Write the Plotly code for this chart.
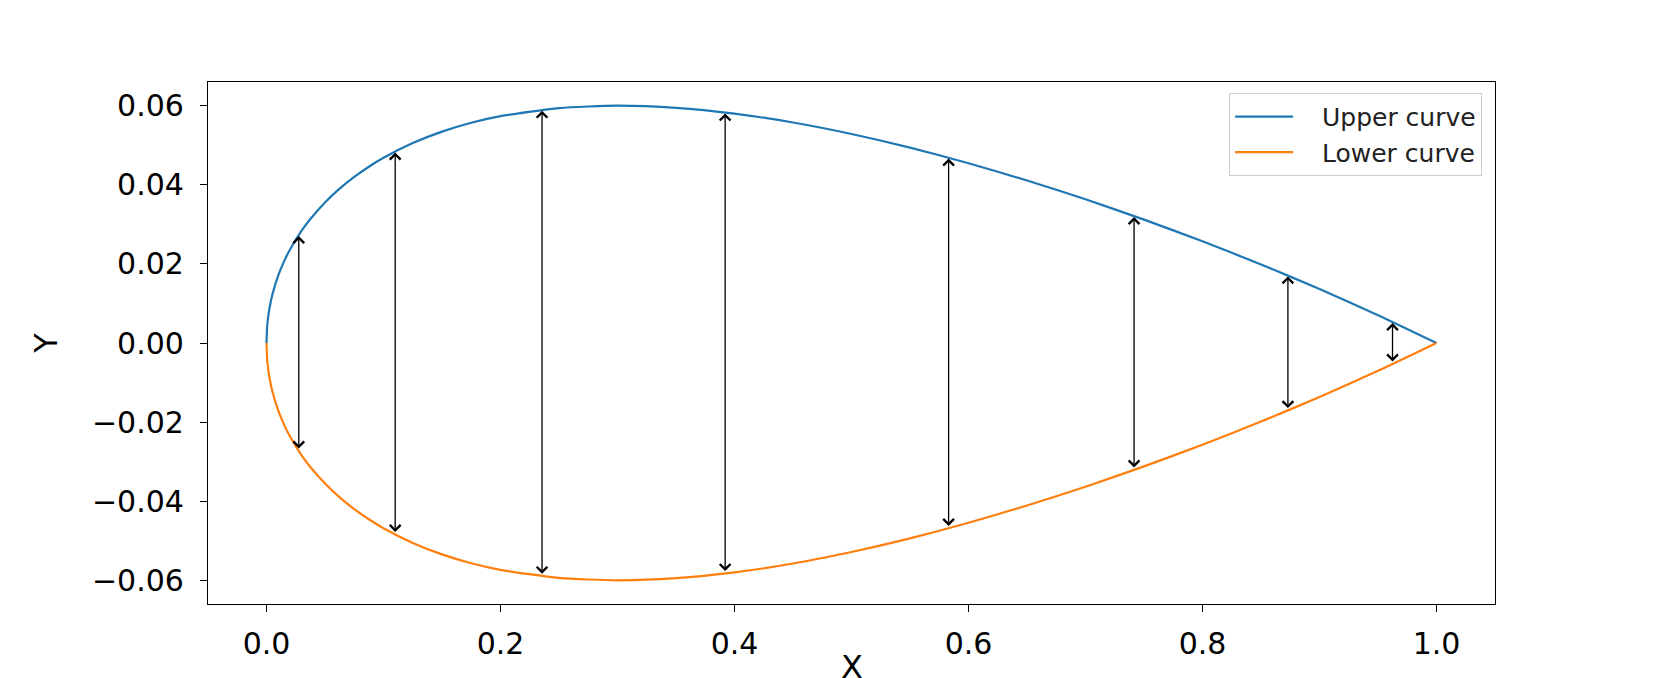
import plotly.graph_objects as go

# Curve points
x_curve = [0.0, 0.0005, 0.001, 0.0025, 0.005, 0.01, 0.015, 0.02, 0.03, 0.0375, 0.05, 0.0625,
           0.075, 0.0875, 0.1, 0.125, 0.15, 0.175, 0.2, 0.25, 0.3, 0.35, 0.4, 0.45, 0.5,
           0.55, 0.6, 0.65, 0.7, 0.75, 0.8, 0.85, 0.9, 0.95, 1.0]
y_upper = [0.0, 0.00395, 0.00556, 0.00872, 0.01221, 0.01704, 0.02064, 0.02360, 0.02840,
           0.03137, 0.03555, 0.03903, 0.04200, 0.04457, 0.04683, 0.05055, 0.05345,
           0.05569, 0.05737, 0.05941, 0.06001, 0.05947, 0.05800, 0.05576, 0.05286,
           0.04941, 0.04547, 0.04110, 0.03634, 0.03120, 0.02571, 0.01987, 0.01365,
           0.00704, 0.0]
y_lower = [0.0, -0.00395, -0.00556, -0.00872, -0.01221, -0.01704, -0.02064, -0.02360,
           -0.02840, -0.03137, -0.03555, -0.03903, -0.04200, -0.04457, -0.04683,
           -0.05055, -0.05345, -0.05569, -0.05737, -0.05941, -0.06001, -0.05947,
           -0.05800, -0.05576, -0.05286, -0.04941, -0.04547, -0.04110, -0.03634,
           -0.03120, -0.02571, -0.01987, -0.01365, -0.00704, 0.0]

# Thickness arrows
arrow_x = [0.0276, 0.110, 0.2355, 0.392, 0.583, 0.7415, 0.873, 0.9624]
arrow_top = [0.0273, 0.0484, 0.0590, 0.0583, 0.0469, 0.0321, 0.0171, 0.0053]
arrow_bottom = [-0.0273, -0.0484, -0.0590, -0.0583, -0.0469, -0.0321, -0.0171, -0.0053]

x_ticks = [0.0, 0.2, 0.4, 0.6, 0.8, 1.0]
x_ticktext = ["0.0", "0.2", "0.4", "0.6", "0.8", "1.0"]
y_ticks = [-0.06, -0.04, -0.02, 0.0, 0.02, 0.04, 0.06]
y_ticktext = ["\u22120.06", "\u22120.04", "\u22120.02", "0.00", "0.02", "0.04", "0.06"]

FONT = "DejaVu Sans"
NB = "\u00a0\u00a0\u00a0"

fig = go.Figure()
fig.add_trace(go.Scatter(x=x_curve, y=y_upper, mode="lines", name=NB + "Upper curve",
                         line=dict(color="#1f77b4", width=2.2, shape="spline", smoothing=0.6),
                         legendgroup="u"))
fig.add_trace(go.Scatter(x=x_curve, y=y_lower, mode="lines", name=NB + "Lower curve",
                         line=dict(color="#ff7f0e", width=2.2, shape="spline", smoothing=0.6),
                         legendgroup="l"))

annotations = []
for xa, yt, yb in zip(arrow_x, arrow_top, arrow_bottom):
    annotations.append(dict(
        x=xa, y=yt, ax=xa, ay=yb, xref="x", yref="y", axref="x", ayref="y",
        text="", showarrow=True, arrowhead=4, startarrowhead=4, arrowside="end+start",
        arrowwidth=1.3, arrowsize=1.6, startarrowsize=1.6, arrowcolor="black",
        standoff=1, startstandoff=1))

annotations.append(dict(text="Y", xref="paper", yref="paper", x=-0.126, y=0.5,
                        xanchor="center", yanchor="middle", textangle=-90, showarrow=False,
                        font=dict(family=FONT, size=32, color="black")))
annotations.append(dict(text="X", xref="paper", yref="paper", x=0.5, y=-0.08,
                        xanchor="center", yanchor="top", showarrow=False,
                        font=dict(family=FONT, size=32, color="black")))

fig.update_layout(
    width=1653, height=670,
    margin=dict(l=200, r=166, t=74, b=74),
    paper_bgcolor="white", plot_bgcolor="white",
    font=dict(family=FONT, color="black"),
    showlegend=True,
    legend=dict(x=0.99, y=0.979, xanchor="right", yanchor="top",
                bgcolor="white", bordercolor="#cccccc", borderwidth=1,
                font=dict(family=FONT, size=25, color="#222222"),
                itemwidth=58, tracegroupgap=0),
    annotations=annotations,
)
fig.update_xaxes(range=[-0.05, 1.05], tickvals=x_ticks, ticktext=x_ticktext,
                 showgrid=False, zeroline=False, showline=True, mirror=True,
                 linecolor="black", linewidth=1.3, ticks="outside", ticklen=7,
                 tickcolor="black", tickwidth=1.3, tickfont=dict(family=FONT, size=30),
                 ticklabelstandoff=6)
fig.update_yaxes(range=[-0.066, 0.066], tickvals=y_ticks, ticktext=y_ticktext,
                 showgrid=False, zeroline=False, showline=True, mirror=True,
                 linecolor="black", linewidth=1.3, ticks="outside", ticklen=7,
                 tickcolor="black", tickwidth=1.3, tickfont=dict(family=FONT, size=30),
                 ticklabelstandoff=10)

fig.write_html("out.html")
